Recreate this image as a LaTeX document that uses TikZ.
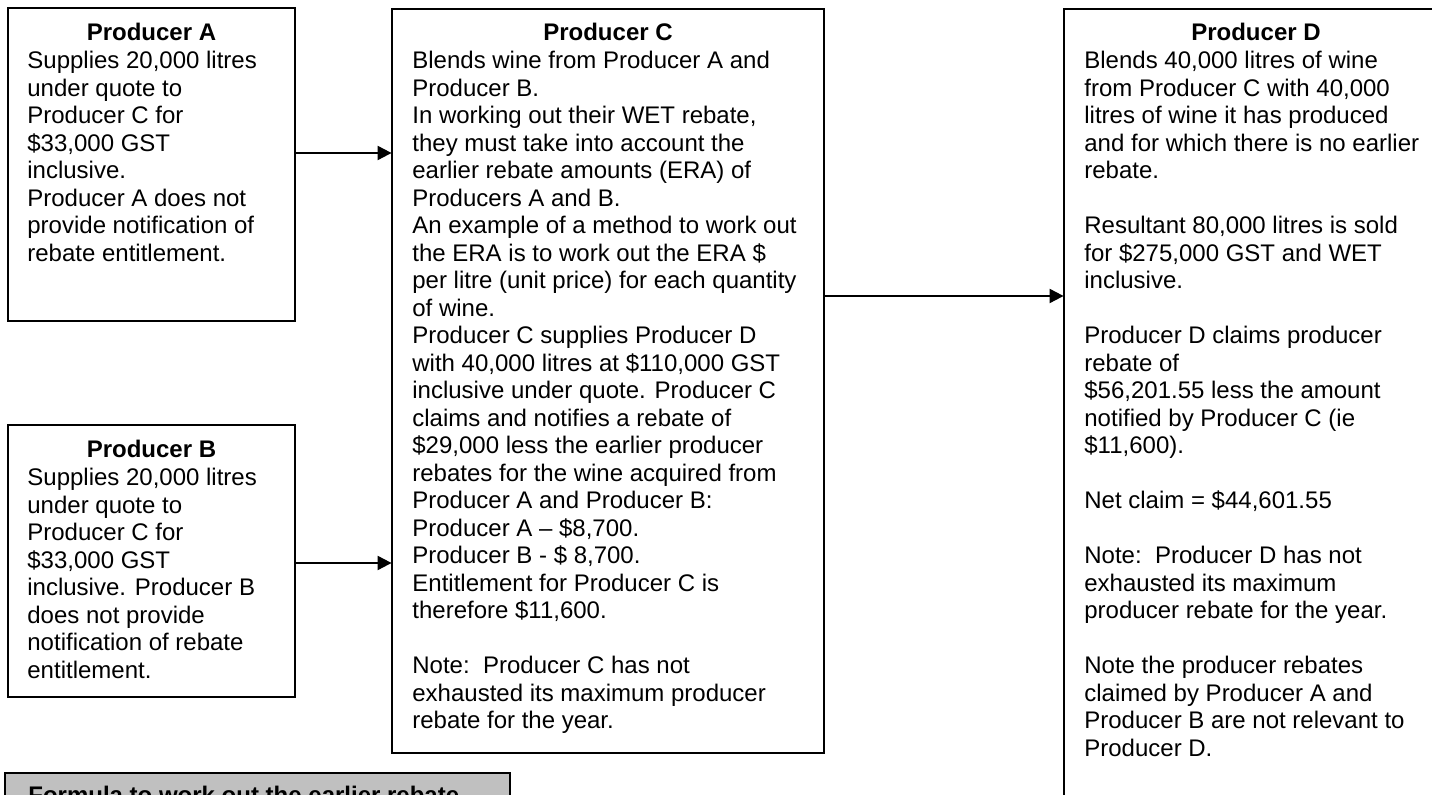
\documentclass[tikz,border=0pt]{standalone}
\usepackage{fontspec}
\setmainfont{Liberation Sans}
\usetikzlibrary{arrows.meta}
\begin{document}
\begin{tikzpicture}[x=0.5pt,y=-0.5pt,
  boxline/.style={draw=black, line width=1pt},
  conn/.style={draw=black, line width=1pt, -{Triangle[length=7pt,width=7pt]}},
  titletext/.style={font=\fontsize{12}{13.75}\selectfont\bfseries, anchor=base, inner sep=0pt},
  bodytext/.style={font=\fontsize{12}{13.75}\selectfont, anchor=north west, align=left, inner sep=0pt}]
\useasboundingbox (0,0) rectangle (1432,795);
\clip (0,0) rectangle (1432,795);
% boxes
\node (A) [minimum width=143.5pt, minimum height=156.5pt, inner sep=0pt] at (151.5,164.5) {};
\node (B) [minimum width=143.5pt, minimum height=136pt, inner sep=0pt] at (151.5,561) {};
\node (C) [minimum width=216pt, minimum height=372pt, inner sep=0pt] at (608,381) {};
\node (D) [minimum width=192pt, minimum height=420pt, inner sep=0pt] at (1256,429) {};
\draw[boxline] (A.north west) rectangle (A.south east);
\draw[boxline] (B.north west) rectangle (B.south east);
\draw[boxline] (C.north west) rectangle (C.south east);
\draw[boxline] (D.north west) rectangle (D.south east);
% gray box
\node (F) [boxline, fill={rgb,255:red,192;green,192;blue,192}, minimum width=252.5pt, minimum height=30pt, inner sep=0pt] at (257.5,803) {};
\node (Ft) [titletext, anchor=base west] at (28,804) {Formula to work out the earlier rebate};
% titles
\node (At) [titletext] at (151.5,41) {Producer A};
\node (Bt) [titletext] at (151.5,458) {Producer B};
\node (Ct) [titletext] at (608,41) {Producer C};
\node (Dt) [titletext] at (1256,41) {Producer D};
% bodies
\node (Ab) [bodytext] at (27,49.25) {\strut Supplies 20,000 litres\\ under quote to\\ Producer C for\\ \$33,000 GST\\ inclusive.\\ Producer A does not\\ provide notification of\\ rebate entitlement.};
\node (Bb) [bodytext] at (27,466.25) {\strut Supplies 20,000 litres\\ under quote to\\ Producer C for\\ \$33,000 GST\\ inclusive. Producer B\\ does not provide\\ notification of rebate\\ entitlement.};
\node (Cb) [bodytext] at (412,49.25) {\strut Blends wine from Producer A and\\
Producer B.\\
In working out their WET rebate,\\
they must take into account the\\
earlier rebate amounts (ERA) of\\
Producers A and B.\\
An example of a method to work out\\
the ERA is to work out the ERA \$\\
per litre (unit price) for each quantity\\
of wine.\\
Producer C supplies Producer D\\
with 40,000 litres at \$110,000 GST\\
inclusive under quote. Producer C\\
claims and notifies a rebate of\\
\$29,000 less the earlier producer\\
rebates for the wine acquired from\\
Producer A and Producer B:\\
Producer A \textendash{} \$8,700.\\
Producer B - \$ 8,700.\\
Entitlement for Producer C is\\
therefore \$11,600.\\[13.75pt]
Note:\ \ Producer C has not\\
exhausted its maximum producer\\
rebate for the year.};
\node (Db) [bodytext] at (1084,49.25) {\strut Blends 40,000 litres of wine\\
from Producer C with 40,000\\
litres of wine it has produced\\
and for which there is no earlier\\
rebate.\\[13.75pt]
Resultant 80,000 litres is sold\\
for \$275,000 GST and WET\\
inclusive.\\[13.75pt]
Producer D claims producer\\
rebate of\\
\$56,201.55 less the amount\\
notified by Producer C (ie\\
\$11,600).\\[13.75pt]
Net claim = \$44,601.55\\[13.75pt]
Note:\ \ Producer D has not\\
exhausted its maximum\\
producer rebate for the year.\\[13.75pt]
Note the producer rebates\\
claimed by Producer A and\\
Producer B are not relevant to\\
Producer D.};
% connectors
\draw[conn] (A.east |- 0,153) -- (C.west |- 0,153);
\draw[conn] (B.east |- 0,563) -- (C.west |- 0,563);
\draw[conn] (C.east |- 0,296) -- (D.west |- 0,296);
\end{tikzpicture}
\end{document}
